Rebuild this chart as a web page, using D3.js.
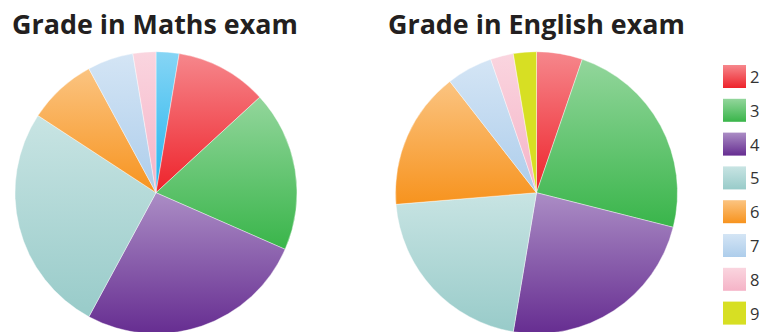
<!DOCTYPE html>
<html>
<head>
<meta charset="utf-8">
<script src="https://cdn.jsdelivr.net/npm/d3@7"></script>
<style>
  html, body { margin: 0; padding: 0; background: #fff; }
  svg { display: block; }
</style>
</head>
<body>
<svg id="chart" width="766" height="332"></svg>
<script>
// Number of pupils at each grade
const mathsGrades  = ["1", "2", "3", "4", "5", "6", "7", "8"];
const mathsCounts  = [1, 4, 7, 10, 10, 3, 2, 1];
const englishGrades = ["2", "3", "4", "5", "6", "7", "8", "9"];
const englishCounts = [2, 9, 9, 8, 6, 2, 1, 1];
const legendGrades = ["2", "3", "4", "5", "6", "7", "8", "9"];
const titles = ["Grade in Maths exam", "Grade in English exam"];

// Top / bottom colours of each grade's vertical gradient
const gradeTop    = { "1": "#86d5f5", "2": "#f6878c", "3": "#93d69c", "4": "#ab8dc5", "5": "#c8e4e3", "6": "#fbc481", "7": "#d4e5f5", "8": "#fad5df", "9": "#d7df23" };
const gradeBottom = { "1": "#22b4ed", "2": "#ee232b", "3": "#39b54a", "4": "#662d91", "5": "#98cbc9", "6": "#f7931e", "7": "#adcdeb", "8": "#f5b3c7", "9": "#d7df23" };

const svg = d3.select("#chart");
const defs = svg.append("defs");

const allGrades = Array.from(new Set([...mathsGrades, ...englishGrades]));
allGrades.forEach(g => {
  const lg = defs.append("linearGradient")
    .attr("id", "grad-" + g)
    .attr("x1", 0).attr("y1", 0).attr("x2", 0).attr("y2", 1);
  lg.append("stop").attr("offset", "0%").attr("stop-color", gradeTop[g]);
  lg.append("stop").attr("offset", "100%").attr("stop-color", gradeBottom[g]);
});

const radius = 141;
const arc = d3.arc().innerRadius(0).outerRadius(radius);
const pie = d3.pie().sort(null).value(d => d.count);

const charts = [
  { grades: mathsGrades, counts: mathsCounts, cx: 156, cy: 192.7, title: titles[0], titleX: 12, titleW: 286 },
  { grades: englishGrades, counts: englishCounts, cx: 536.5, cy: 192.7, title: titles[1], titleX: 388, titleW: 297 }
];

charts.forEach(c => {
  const data = c.grades.map((g, i) => ({ grade: g, count: c.counts[i] }));
  const g = svg.append("g").attr("transform", `translate(${c.cx},${c.cy})`);
  g.selectAll("path")
    .data(pie(data))
    .join("path")
    .attr("d", arc)
    .attr("fill", d => `url(#grad-${d.data.grade})`)
    .attr("stroke", "#fff")
    .attr("stroke-width", 0.4);

  const t = svg.append("text")
    .attr("x", c.titleX)
    .attr("y", 34)
    .attr("font-family", "'Open Sans', sans-serif")
    .attr("font-weight", 700)
    .attr("font-size", 28)
    .attr("fill", "#231f20")
    .text(c.title);
  const w = t.node().getComputedTextLength();
  t.attr("font-size", 28 * c.titleW / w);
});

// Legend
const legend = svg.append("g").attr("transform", "translate(723,65)");
const items = legend.selectAll("g")
  .data(legendGrades)
  .join("g")
  .attr("transform", (d, i) => `translate(0,${i * 33.8})`);
items.append("rect")
  .attr("width", 23).attr("height", 23)
  .attr("fill", d => `url(#grad-${d})`);
items.append("text")
  .attr("x", 27)
  .attr("y", 18)
  .attr("font-family", "'Open Sans', sans-serif")
  .attr("font-size", 16.5)
  .attr("fill", "#333")
  .text(d => d);
</script>
</body>
</html>
